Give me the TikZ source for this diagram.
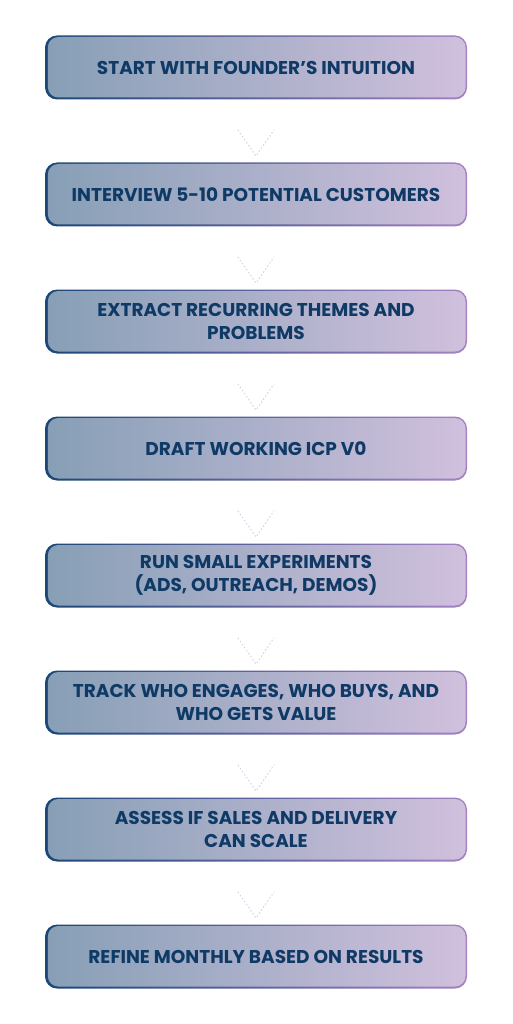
\documentclass[tikz,border=0pt]{standalone}
\usepackage{fontspec}
\setmainfont{Poppins}
\definecolor{fillL}{HTML}{879FB6}
\definecolor{fillR}{HTML}{D0C0DD}
\definecolor{bordL}{HTML}{1B4777}
\definecolor{bordR}{HTML}{A482C4}
\definecolor{txt}{HTML}{0F3A66}
\definecolor{chev}{HTML}{D6CEE6}
\tikzset{
  x=1pt,y=-1pt,
  label text/.style={font=\fontsize{18.5}{23.5}\selectfont\bfseries, text=txt, align=center},
  chevron/.style={draw=chev, line width=0.9pt, dash pattern=on 1.2pt off 2.5pt, line cap=round},
}
\newcommand{\stepbox}[3]{%
  % #1 name, #2 center y, #3 text
  \shade[left color=bordL, right color=bordR, rounded corners=12pt] (45,#2-32) rectangle (467,#2+32);
  \shade[left color=fillL, right color=fillR, rounded corners=10.5pt] (47.8,#2-30.5) rectangle (465.5,#2+30);
  \node[label text] (#1) at (256,#2) {#3};
  \coordinate (#1-top) at (256,#2-32);
  \coordinate (#1-bot) at (256,#2+32);
}
\begin{document}
\begin{tikzpicture}
\useasboundingbox (0,0) rectangle (512,1024);
\stepbox{b1}{67.5}{START WITH FOUNDER’S INTUITION}
\stepbox{b2}{194.5}{INTERVIEW 5-10 POTENTIAL CUSTOMERS}
\stepbox{b3}{321.5}{EXTRACT RECURRING THEMES AND\\PROBLEMS}
\stepbox{b4}{448.5}{DRAFT WORKING ICP V0}
\stepbox{b5}{575.5}{RUN SMALL EXPERIMENTS\\(ADS, OUTREACH, DEMOS)}
\stepbox{b6}{702.5}{TRACK WHO ENGAGES, WHO BUYS, AND\\WHO GETS VALUE}
\stepbox{b7}{829.5}{ASSESS IF SALES AND DELIVERY\\CAN SCALE}
\stepbox{b8}{956.5}{REFINE MONTHLY BASED ON RESULTS}
\foreach \a/\b in {b1/b2,b2/b3,b3/b4,b4/b5,b5/b6,b6/b7,b7/b8}{
  \path (\a-bot) -- (\b-top) coordinate[pos=0.5] (m\a);
  \draw[chevron] ([shift={(-18,-1)}]m\a) -- ([shift={(0,25)}]m\a) -- ([shift={(18,-1)}]m\a);
}
\end{tikzpicture}
\end{document}
